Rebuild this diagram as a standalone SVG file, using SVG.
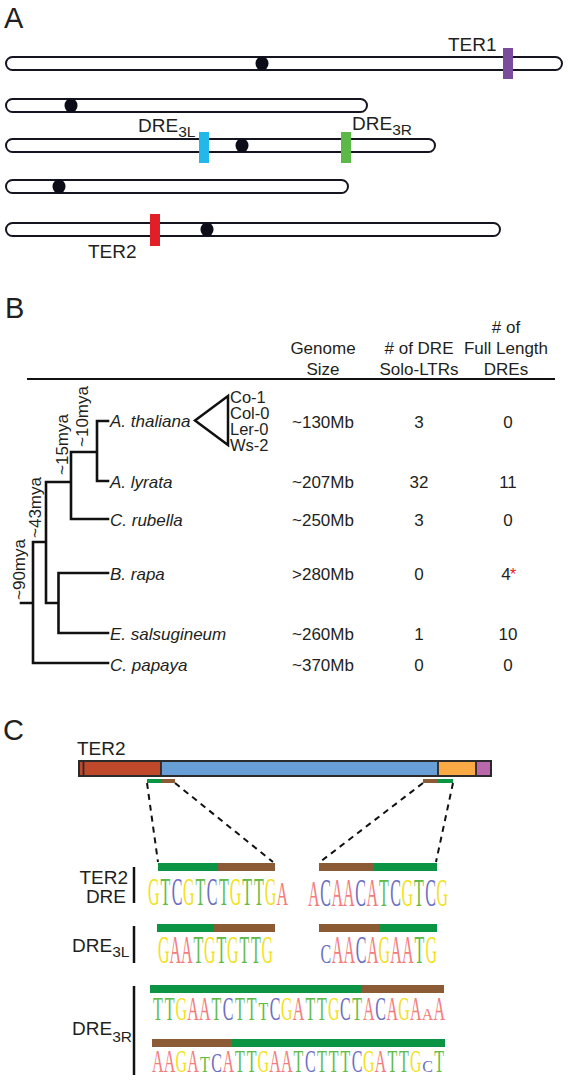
<svg xmlns="http://www.w3.org/2000/svg" width="568" height="1080" viewBox="0 0 568 1080">
<style>
text{font-family:"Liberation Sans",Arial,sans-serif;fill:#231f20}
.panel{font-size:29px}
.lbl{font-size:19px}
.sub{font-size:15.5px}
.hd{font-size:17px;text-anchor:middle}
.val{font-size:17px;text-anchor:middle}
.sp{font-size:17px;font-style:italic}
.st{font-size:16.5px}
.mya{font-size:17px}
.chr{fill:#fff;stroke:#151522;stroke-width:2}
.cen{fill:#0d0d1a}
.tree{fill:none;stroke:#111;stroke-width:2.6;stroke-linecap:square}
.dash{fill:none;stroke:#111;stroke-width:2;stroke-dasharray:6 5}
.lg{font-family:"Liberation Serif","Times New Roman",serif;font-size:16px;text-anchor:middle}
.g{fill:#f0e21c}.t{fill:#62bb46}.c{fill:#6d6fbf}.a{fill:#f47c7c}
.grn{fill:#0c9445}.brn{fill:#8b5b36}
</style>

<!-- Panel A -->
<g id="panelA">
<text class="panel" x="4" y="28">A</text>
<g id="chr1"><rect class="chr" x="6" y="57" width="556" height="13" rx="6.5"/><ellipse class="cen" cx="262" cy="63.5" rx="6.5" ry="7"/></g>
<g id="chr2"><rect class="chr" x="6" y="99" width="361" height="13" rx="6.5"/><ellipse class="cen" cx="71" cy="105.5" rx="6.5" ry="7"/></g>
<g id="chr3"><rect class="chr" x="6" y="139" width="429" height="13" rx="6.5"/><ellipse class="cen" cx="242" cy="145.5" rx="6.5" ry="7"/></g>
<g id="chr4"><rect class="chr" x="6" y="180" width="342" height="13" rx="6.5"/><ellipse class="cen" cx="59" cy="186.5" rx="6.5" ry="7"/></g>
<g id="chr5"><rect class="chr" x="6" y="223" width="494" height="13" rx="6.5"/><ellipse class="cen" cx="207" cy="229.5" rx="6.5" ry="7"/></g>
<g id="TER1"><rect x="503" y="48" width="10" height="31" fill="#7b4b9c"/><text class="lbl" x="448" y="51">TER1</text></g>
<g id="DRE3L"><rect x="199" y="132" width="10" height="31" fill="#22b8ea"/><text class="lbl" x="138" y="132">DRE<tspan class="sub" dy="5">3L</tspan></text></g>
<g id="DRE3R"><rect x="341" y="132" width="10" height="31" fill="#5cb947"/><text class="lbl" x="352" y="130">DRE<tspan class="sub" dy="5">3R</tspan></text></g>
<g id="TER2A"><rect x="150" y="214" width="10" height="32" fill="#e21f26"/><text class="lbl" x="88" y="258">TER2</text></g>
</g>

<!-- Panel B -->
<g id="panelB">
<text class="panel" x="5" y="318">B</text>
<g id="header">
<text class="hd" x="323" y="354">Genome</text>
<text class="hd" x="323" y="375">Size</text>
<text class="hd" x="419" y="354"># of DRE</text>
<text class="hd" x="419" y="375">Solo-LTRs</text>
<text class="hd" x="506" y="333"># of</text>
<text class="hd" x="506" y="354">Full Length</text>
<text class="hd" x="506" y="375">DREs</text>
<line x1="27" y1="379" x2="555" y2="379" stroke="#111" stroke-width="2.2"/>
</g>
<g id="tree-edges">
<path class="tree" d="M108 421H97V481H108M97 452H71M71 452V519H108M46 482H71M46 482V603M46 603H58.5M58.5 573V633M58.5 573H108M58.5 633H108M33 542H46M33 542V663H108M21 603H33"/>
</g>
<g id="mya">
<text class="mya" transform="translate(88,447) rotate(-90)">~10mya</text>
<text class="mya" transform="translate(68,475) rotate(-90)">~15mya</text>
<text class="mya" transform="translate(41,538) rotate(-90)">~43mya</text>
<text class="mya" transform="translate(25,600) rotate(-90)">~90mya</text>
</g>
<g id="athaliana">
<text class="sp" x="110" y="427">A. thaliana</text>
<path d="M228 396L195 420.5L228 445Z" fill="none" stroke="#111" stroke-width="2.5" stroke-linejoin="miter"/>
<text class="st" x="230" y="403">Co-1</text>
<text class="st" x="230" y="419">Col-0</text>
<text class="st" x="230" y="435">Ler-0</text>
<text class="st" x="230" y="451">Ws-2</text>
<text class="val" x="323" y="428">~130Mb</text><text class="val" x="419" y="428">3</text><text class="val" x="508" y="428">0</text>
</g>
<g id="alyrata">
<text class="sp" x="110" y="488">A. lyrata</text>
<text class="val" x="323" y="488">~207Mb</text><text class="val" x="419" y="488">32</text><text class="val" x="508" y="488">11</text>
</g>
<g id="crubella">
<text class="sp" x="110" y="526">C. rubella</text>
<text class="val" x="323" y="526">~250Mb</text><text class="val" x="419" y="526">3</text><text class="val" x="508" y="526">0</text>
</g>
<g id="brapa">
<text class="sp" x="110" y="580">B. rapa</text>
<text class="val" x="323" y="580">&gt;280Mb</text><text class="val" x="419" y="580">0</text><text class="val" x="506" y="580">4</text>
<text x="510" y="580" font-size="16" style="fill:#e8202a">*</text>
</g>
<g id="esalsugineum">
<text class="sp" x="110" y="640">E. salsugineum</text>
<text class="val" x="323" y="640">~260Mb</text><text class="val" x="419" y="640">1</text><text class="val" x="508" y="640">10</text>
</g>
<g id="cpapaya">
<text class="sp" x="110" y="671">C. papaya</text>
<text class="val" x="323" y="671">~370Mb</text><text class="val" x="419" y="671">0</text><text class="val" x="508" y="671">0</text>
</g>
</g>

<!-- Panel C -->
<g id="panelC">
<text class="panel" x="3" y="740">C</text>
<g id="TER2bar">
<text class="lbl" x="77" y="755">TER2</text>
<rect x="79" y="761" width="82" height="15" fill="#c1492b"/>
<rect x="161" y="761" width="277" height="15" fill="#689fd6"/>
<rect x="438" y="761" width="38" height="15" fill="#f9aa45"/>
<rect x="476" y="761" width="15" height="15" fill="#b968ab"/>
<path d="M83.5 761V776M161 761V776M438 761V776M476 761V776" stroke="#2b2b2b" stroke-width="1.8"/>
<rect x="79" y="761" width="412" height="15" fill="none" stroke="#2b2b2b" stroke-width="2"/>
<rect class="grn" x="147" y="779" width="15" height="4"/><rect class="brn" x="162" y="779" width="13" height="4"/>
<rect class="brn" x="423" y="779" width="15" height="4"/><rect class="grn" x="438" y="779" width="15" height="4"/>
</g>
<g id="connectors">
<line class="dash" x1="147" y1="783" x2="158" y2="862"/>
<line class="dash" x1="175" y1="783" x2="273" y2="862"/>
<line class="dash" x1="423" y1="783" x2="320" y2="862"/>
<line class="dash" x1="453" y1="783" x2="436" y2="862"/>
</g>
<g id="TER2DRE">
<text class="lbl" x="128" y="884" text-anchor="end">TER2</text>
<text class="lbl" x="126" y="903" text-anchor="end">DRE</text>
<line x1="134" y1="867" x2="134" y2="903" stroke="#111" stroke-width="2.5"/>
<rect class="grn" x="158" y="863" width="60" height="8"/><rect class="brn" x="218" y="863" width="57" height="8"/>
<rect class="brn" x="319" y="863" width="55" height="8"/><rect class="grn" x="374" y="863" width="63" height="8"/>
<g transform="translate(0,905) scale(1,2.5)">
<text class="lg g" x="153.8" y="0">G</text><text class="lg t" x="165.5" y="0">T</text><text class="lg c" x="177.2" y="0">C</text><text class="lg g" x="188.8" y="0">G</text><text class="lg t" x="200.5" y="0">T</text><text class="lg c" x="212.2" y="0">C</text><text class="lg t" x="223.8" y="0">T</text><text class="lg g" x="235.5" y="0">G</text><text class="lg t" x="247.2" y="0">T</text><text class="lg t" x="258.8" y="0">T</text><text class="lg g" x="270.5" y="0">G</text><text class="lg a" x="282.2" y="0" transform="scale(1,0.85)">A</text>
</g>
<g transform="translate(0,906) scale(1,2.5)">
<text class="lg a" x="313.8" y="0" transform="scale(1,0.88)">A</text><text class="lg c" x="325.5" y="0">C</text><text class="lg a" x="337.2" y="0">A</text><text class="lg a" x="348.8" y="0">A</text><text class="lg c" x="360.5" y="0">C</text><text class="lg a" x="372.2" y="0">A</text><text class="lg t" x="383.8" y="0">T</text><text class="lg c" x="395.5" y="0">C</text><text class="lg g" x="407.2" y="0">G</text><text class="lg t" x="418.8" y="0">T</text><text class="lg c" x="430.5" y="0">C</text><text class="lg g" x="442.2" y="0">G</text>
</g>
</g>
<g id="DRE3Lseq">
<text class="lbl" x="72" y="952">DRE<tspan class="sub" dy="5">3L</tspan></text>
<line x1="134" y1="926" x2="134" y2="963" stroke="#111" stroke-width="2.5"/>
<rect class="grn" x="157" y="924" width="57" height="8"/><rect class="brn" x="214" y="924" width="61" height="8"/>
<rect class="brn" x="319" y="924" width="61" height="8"/><rect class="grn" x="380" y="924" width="57" height="8"/>
<g transform="translate(0,963) scale(1,2.45)">
<text class="lg g" x="163.8" y="0">G</text><text class="lg a" x="175.3" y="0">A</text><text class="lg a" x="186.8" y="0">A</text><text class="lg t" x="198.3" y="0">T</text><text class="lg g" x="209.8" y="0">G</text><text class="lg t" x="221.3" y="0">T</text><text class="lg g" x="232.8" y="0">G</text><text class="lg t" x="244.3" y="0">T</text><text class="lg t" x="255.8" y="0">T</text><text class="lg g" x="267.3" y="0">G</text>
<text class="lg c" x="325.9" y="0" transform="scale(1,0.68)">C</text><text class="lg a" x="337.6" y="0">A</text><text class="lg a" x="349.3" y="0">A</text><text class="lg c" x="361" y="0">C</text><text class="lg a" x="372.7" y="0">A</text><text class="lg g" x="384.4" y="0">G</text><text class="lg a" x="396.1" y="0">A</text><text class="lg a" x="407.8" y="0">A</text><text class="lg t" x="419.5" y="0">T</text><text class="lg g" x="431.2" y="0">G</text>
</g>
</g>
<g id="DRE3Rseq">
<text class="lbl" x="72" y="1035">DRE<tspan class="sub" dy="7">3R</tspan></text>
<line x1="134" y1="986" x2="134" y2="1075" stroke="#111" stroke-width="2.5"/>
<rect class="grn" x="150" y="985" width="212" height="8"/><rect class="brn" x="362" y="985" width="82" height="8"/>
<rect class="brn" x="152" y="1039" width="80" height="8"/><rect class="grn" x="232" y="1039" width="213" height="8"/>
<g transform="translate(0,1020) scale(1,2.08)">
<text class="lg t" x="157.9" y="0">T</text><text class="lg t" x="169.6" y="0">T</text><text class="lg g" x="181.3" y="0">G</text><text class="lg a" x="193.1" y="0">A</text><text class="lg a" x="204.8" y="0">A</text><text class="lg t" x="216.5" y="0">T</text><text class="lg c" x="228.2" y="0">C</text><text class="lg t" x="239.9" y="0">T</text><text class="lg t" x="251.7" y="0">T</text><text class="lg t" x="263.4" y="0" transform="scale(1,0.78)">T</text><text class="lg c" x="275.1" y="0">C</text><text class="lg g" x="286.8" y="0">G</text><text class="lg a" x="298.5" y="0">A</text><text class="lg t" x="310.3" y="0">T</text><text class="lg t" x="322" y="0">T</text><text class="lg g" x="333.7" y="0">G</text><text class="lg c" x="345.4" y="0">C</text><text class="lg t" x="357.1" y="0">T</text><text class="lg a" x="368.9" y="0">A</text><text class="lg c" x="380.6" y="0">C</text><text class="lg a" x="392.3" y="0">A</text><text class="lg g" x="404" y="0">G</text><text class="lg a" x="415.7" y="0">A</text><text class="lg a" x="427.5" y="0" transform="scale(1,0.5)">A</text><text class="lg a" x="439.2" y="0">A</text>
</g>
<g transform="translate(0,1072) scale(1,2.0)">
<text class="lg a" x="157.9" y="0">A</text><text class="lg a" x="169.6" y="0">A</text><text class="lg g" x="181.3" y="0">G</text><text class="lg a" x="193.1" y="0">A</text><text class="lg t" x="204.8" y="0" transform="scale(1,0.72)">T</text><text class="lg c" x="216.5" y="0" transform="scale(1,0.85)">C</text><text class="lg a" x="228.2" y="0">A</text><text class="lg t" x="239.9" y="0">T</text><text class="lg t" x="251.7" y="0">T</text><text class="lg g" x="263.4" y="0">G</text><text class="lg a" x="275.1" y="0">A</text><text class="lg a" x="286.8" y="0">A</text><text class="lg t" x="298.5" y="0">T</text><text class="lg c" x="310.3" y="0">C</text><text class="lg t" x="322" y="0">T</text><text class="lg t" x="333.7" y="0">T</text><text class="lg t" x="345.4" y="0">T</text><text class="lg c" x="357.1" y="0">C</text><text class="lg g" x="368.9" y="0">G</text><text class="lg a" x="380.6" y="0">A</text><text class="lg t" x="392.3" y="0">T</text><text class="lg t" x="404" y="0">T</text><text class="lg g" x="415.7" y="0">G</text><text class="lg c" x="427.5" y="0" transform="scale(1,0.5)">C</text><text class="lg t" x="439.2" y="0">T</text>
</g>
</g>
</g>
</svg>
